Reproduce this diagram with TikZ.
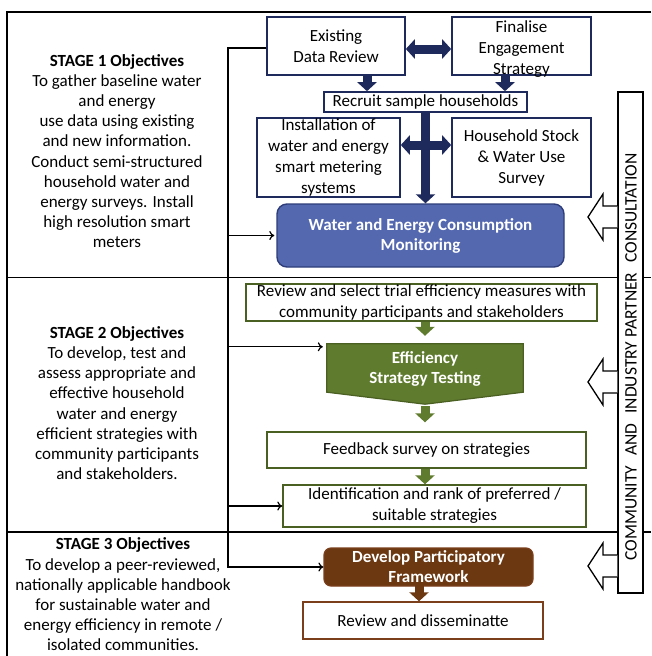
\documentclass[tikz,border=0pt]{standalone}
\usepackage{fontspec}
\setmainfont{Carlito}
\usetikzlibrary{arrows.meta,calc}
\definecolor{navy}{HTML}{1F2A5C}
\definecolor{bluefill}{HTML}{5468B0}
\definecolor{blueedge}{HTML}{2E3D7A}
\definecolor{olivefill}{HTML}{5F7B2E}
\definecolor{oliveedge}{HTML}{4A5F22}
\definecolor{brownfill}{HTML}{6B3812}
\definecolor{brownedge}{HTML}{7B3F1C}
\begin{document}
\begin{tikzpicture}[x=1pt,y=-1pt,
  every node/.style={font=\fontsize{17}{20.5}\selectfont, inner sep=0pt},
  lbl/.style={label={[align=center,font=\fontsize{17}{21}\selectfont]center:{#1}}},
  nbox/.style={draw=navy, line width=1.6pt, fill=white},
  gbox/.style={draw=oliveedge, line width=1.4pt, fill=white},
  rbox/.style={draw=brownedge, line width=1.4pt, fill=white},
  frameline/.style={line width=1.5pt},
  fbline/.style={line width=1.2pt},
  fbarrow/.style={fbline, -{To[length=5pt,width=9pt]}},
  blk/.style={line width=9pt, -{Triangle[length=9pt,width=19pt]}},
  dblk/.style={line width=9pt, {Triangle[length=9pt,width=19pt]}-{Triangle[length=9pt,width=19pt]}},
  hollow/.style={draw=black, line width=1.3pt, fill=white, line join=miter},
  stagetxt/.style={align=center, font=\fontsize{17}{20.2}\selectfont},
  whitebold/.style={text=white, align=center, font=\bfseries\fontsize{17}{20}\selectfont}
]
\useasboundingbox (0,0) rectangle (651,656);

% frame
\draw[frameline] (651,12) -- (7,12) -- (7,656);
\draw[frameline] (7,277.5) -- (651,277.5);
\draw[frameline] (7,532) -- (651,532);

% stage texts
\node[stagetxt] (s1) at (117,151) {\textbf{STAGE 1 Objectives}\\To gather baseline water\\and energy\\use data using existing\\and new information.\\Conduct semi-structured\\household water and\\energy surveys. Install\\high resolution smart\\meters};
\node[stagetxt] (s2) at (117,403) {\textbf{STAGE 2 Objectives}\\To develop, test and\\assess appropriate and\\effective household\\water and energy\\efficient strategies with\\community participants\\and stakeholders.};
\node[stagetxt] (s3) at (123,594.5) {\textbf{STAGE 3 Objectives}\\To develop a peer-reviewed,\\nationally applicable handbook\\for sustainable water and\\energy efficiency in remote /\\isolated communities.};

% stage 1 boxes
\node[nbox, minimum width=138pt, minimum height=58pt, lbl={Existing\\Data Review}] (edr) at (336,46) {};
\node[nbox, minimum width=139pt, minimum height=58pt, label={[align=center,font=\fontsize{17}{21}\selectfont,yshift=-3pt]center:{Finalise\\Engagement\\Strategy}}] (fes) at (521.5,46) {};
\node[nbox, minimum width=203pt, minimum height=20pt, lbl={Recruit sample households}] (rec) at (425.5,102) {};
\node[nbox, minimum width=143pt, minimum height=79pt, lbl={Installation of\\water and energy\\smart metering\\systems}] (inst) at (328.5,157.5) {};
\node[nbox, minimum width=139pt, minimum height=79pt, lbl={Household Stock\\\& Water Use\\Survey}] (hh) at (521.5,157.5) {};
\node[draw=blueedge, line width=1.4pt, fill=bluefill, rounded corners=10pt, minimum width=287pt, minimum height=63pt, whitebold] (wec) at (420.5,235.5) {Water and Energy Consumption\\Monitoring};

% stage 1 block arrows
\draw[blk, navy] ([xshift=31pt]edr.south) -- ([xshift=31pt]edr.south |- rec.north);
\draw[blk, navy] ([xshift=-16.5pt]fes.south) -- ([xshift=-16.5pt]fes.south |- rec.north);
\draw[dblk, navy] ([yshift=-3pt]edr.east) -- ([yshift=-3pt]edr.east -| fes.west);
\draw[blk, navy] (rec.south) -- (rec.south |- wec.north);
\draw[dblk, navy] ([yshift=12.5pt]inst.east) -- ([yshift=12.5pt]inst.east -| hh.west);

% stage 2
\node[gbox, minimum width=351pt, minimum height=37pt, lbl={Review and select trial efficiency measures with\\community participants and stakeholders}] (rs) at (421.5,302.5) {};
\node[minimum width=196pt, minimum height=60pt] (est) at (425,374) {};
\filldraw[fill=olivefill, draw=oliveedge, line width=1.2pt] (est.north west) -- (est.north east) -- ([yshift=12pt]est.south east) -- (est.south) -- ([yshift=12pt]est.south west) -- cycle;
\node[whitebold] (esttxt) at ([yshift=5pt]est.center) {Efficiency\\Strategy Testing};
\node[gbox, minimum width=319pt, minimum height=36pt, lbl={Feedback survey on strategies}] (fs) at (426.5,450) {};
\node[gbox, minimum width=303pt, minimum height=42pt, lbl={Identification and rank of preferred /\\suitable strategies}] (idr) at (434.5,506) {};

\draw[blk, olivefill] (est.north |- rs.south) -- ([yshift=8pt]est.north);
\draw[blk, olivefill] ([yshift=-2pt]est.south) -- ([yshift=9pt]est.south |- fs.north);
\draw[blk, olivefill] (est.south |- fs.south) -- (est.south |- idr.north);

% stage 3
\node[draw=brownedge, line width=1.2pt, fill=brownfill, rounded corners=7pt, minimum width=209pt, minimum height=38pt, label={[whitebold]center:{Develop Participatory\\Framework}}] (dpf) at (428.5,567) {};
\node[rbox, minimum width=240pt, minimum height=37pt, lbl={Review and disseminatte}] (rd) at (423,620.5) {};
\draw[blk, brownfill] ([xshift=-9.5pt,yshift=3pt]dpf.south) -- ([xshift=-9.5pt]dpf.south |- rd.north);

% feedback line
\coordinate (fbt) at (228,48);
\coordinate (fbb) at (228,567);
\coordinate (esttip) at ([xshift=-4pt,yshift=-3pt]est.north west);
\draw[fbarrow] (edr.west |- fbt) -- (fbt) -- (fbb) -- (dpf.west |- fbb);
\draw[fbarrow] (fbt |- wec.west) -- ([xshift=-2pt]wec.west);
\draw[fbarrow] (fbt |- esttip) -- (esttip);
\draw[fbarrow] (fbt |- idr.west) -- (idr.west);

% consultation
\node[draw, line width=1.5pt, fill=white, minimum width=25pt, minimum height=501pt] (comm) at (630.5,342.5) {};
\node[rotate=90, font=\fontsize{17.5}{17.5}\selectfont] (commtxt) at (631,357) {COMMUNITY\hspace{10pt}AND\hspace{10pt}INDUSTRY PARTNER\hspace{10pt}CONSULTATION};
\foreach \yy in {217,382,566}
  \draw[hollow] (comm.west |- 0,\yy-11) -- (603,\yy-11) -- (603,\yy-23) -- (588,\yy) -- (603,\yy+23) -- (603,\yy+11) -- (comm.west |- 0,\yy+11);
\end{tikzpicture}
\end{document}
